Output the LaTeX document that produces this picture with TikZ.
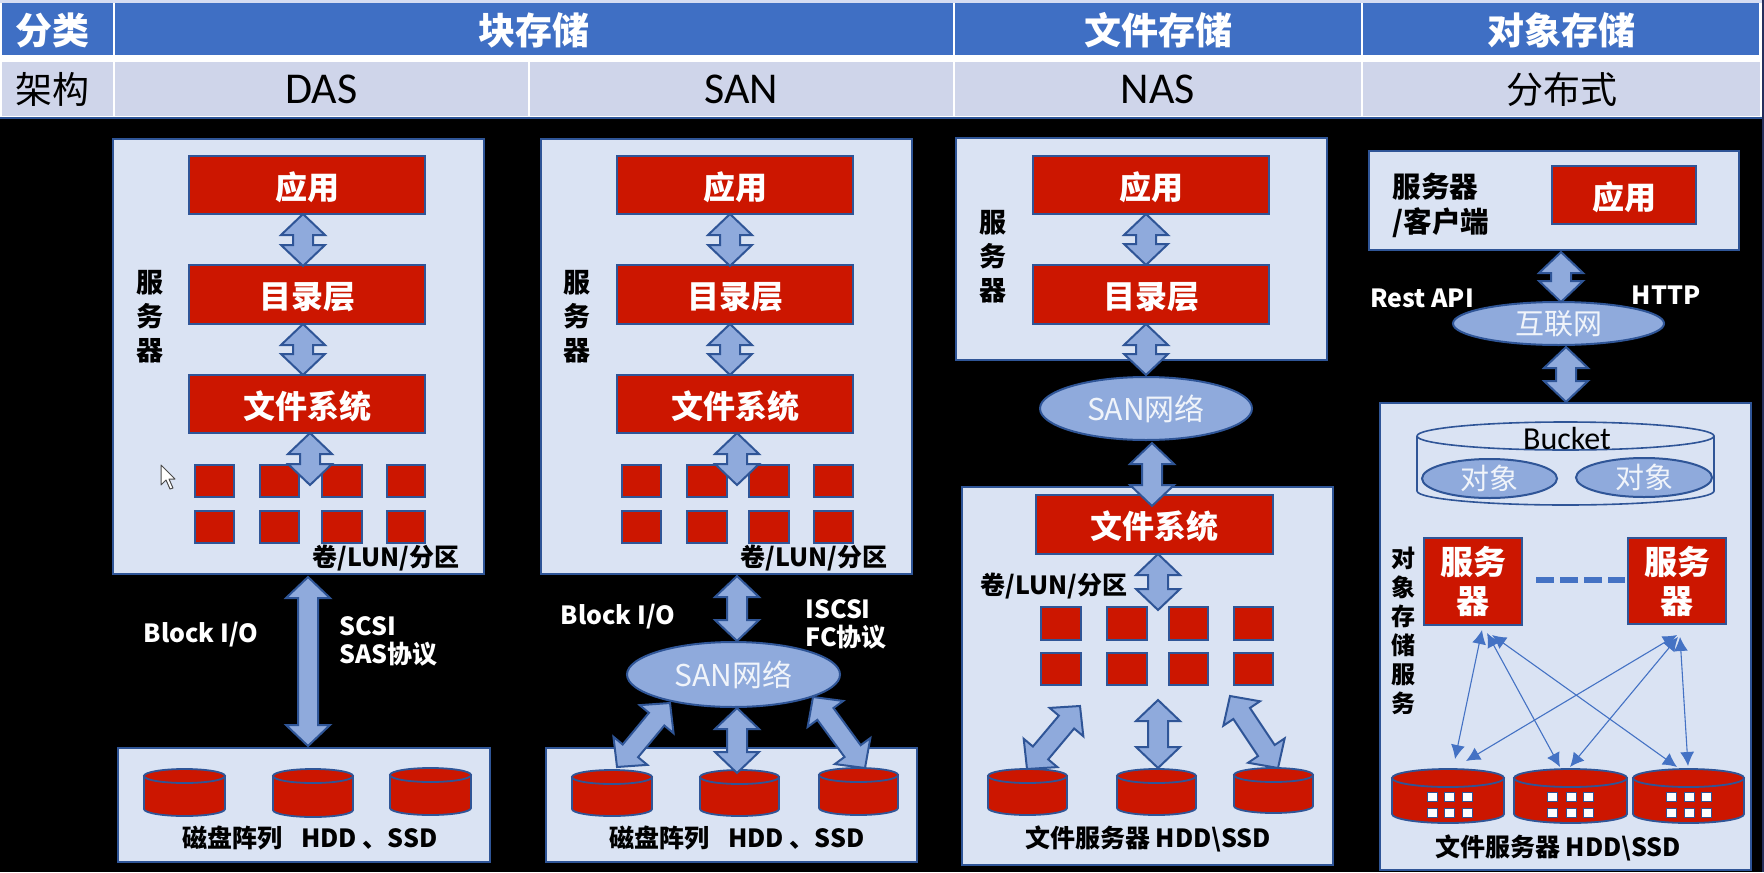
\documentclass[tikz,border=0pt]{standalone}
\usepackage{fontspec}
\setmainfont{Noto Sans CJK SC}
\newfontfamily\latinfont{Carlito}
\usetikzlibrary{calc,shapes.geometric,arrows.meta}

\definecolor{headblue}{HTML}{3F6FC4}
\definecolor{rowgrey}{HTML}{CFD5EA}
\definecolor{panel}{HTML}{DAE3F3}
\definecolor{edgeblue}{HTML}{2F5597}
\definecolor{linkblue}{HTML}{4472C4}
\definecolor{flowblue}{HTML}{8FAADC}
\definecolor{diskred}{HTML}{CC1600}
\definecolor{paletext}{HTML}{F0F4FA}
\definecolor{framenavy}{HTML}{262F5C}
\definecolor{topline}{HTML}{D5DCF2}

% Font sizes are given in pt; one pixel of the grid is 0.5pt.
\newcommand{\fpx}[2]{\fontsize{#1}{#2}\selectfont}

\tikzset{
  cellbase/.style={inner sep=0pt,outer sep=0pt},
  headcell/.style={cellbase,fill=headblue,text=white,font=\bfseries\fpx{18.5}{20},text height=18pt,text depth=2pt},
  rowcell/.style={cellbase,fill=rowgrey,text=black,font=\fpx{18.5}{20}},
  latincell/.style={rowcell,font=\latinfont\fpx{22}{24}},
  panelbox/.style={cellbase,draw=edgeblue,line width=1pt,fill=panel},
  redblock/.style={cellbase,draw=edgeblue,line width=1pt,fill=diskred,text=white,font=\bfseries\fpx{16}{18},text height=15.8pt,text depth=1.8pt},
  bigred/.style={cellbase,draw=edgeblue,line width=1pt,fill=diskred,text=white,font=\bfseries\fpx{16.5}{19.5},align=center},
  redcell/.style={cellbase,draw=edgeblue,line width=.8pt,fill=diskred},
  cloud/.style={cellbase,ellipse,draw=edgeblue,line width=1pt,fill=flowblue,text=paletext,font=\fpx{15}{17}},
  smallcloud/.style={cloud,font=\fpx{14.5}{16}},
  tag/.style={inner sep=0pt,yshift=-1pt,font=\bfseries\fpx{12.5}{14},text=black},
  whitetag/.style={tag,text=white},
  columnlabel/.style={tag,align=center,font=\bfseries\fpx{13.5}{17}},
  blockedge/.style={draw=edgeblue,line width=1pt,fill=flowblue,line join=miter},
  thinedge/.style={draw=linkblue,line width=.55pt,{Latex[length=7pt,width=7pt]}-{Latex[length=7pt,width=7pt]}},
  diskbody/.style={draw=edgeblue,line width=.9pt,fill=diskred},
  bucketline/.style={draw=edgeblue,line width=.8pt},
  slot/.style={cellbase,draw=edgeblue,line width=.5pt,fill=white},
}

% rectangle or ellipse node given by its corners in grid pixels
\newcommand{\cornernode}[7]{%
  \pgfmathsetmacro{\cxp}{(#3+#5)/2}%
  \pgfmathsetmacro{\cyp}{(#4+#6)/2}%
  \pgfmathsetmacro{\wdp}{(#5-#3)/2}%
  \pgfmathsetmacro{\htp}{(#6-#4)/2}%
  \node[#1,minimum width=\wdp pt,minimum height=\htp pt] (#2) at (\cxp,\cyp) {#7};%
}

% hollow double-headed arrow between two named points
\newcommand{\blockarrow}[2]{%
  \draw[blockedge] (#1)
    -- ($(#1)!10.5pt!(#2)!11pt!90:(#2)$)
    -- ($(#1)!10.5pt!(#2)!5pt!90:(#2)$)
    -- ($(#2)!10.5pt!(#1)!5pt!-90:(#1)$)
    -- ($(#2)!10.5pt!(#1)!11pt!-90:(#1)$)
    -- (#2)
    -- ($(#2)!10.5pt!(#1)!11pt!90:(#1)$)
    -- ($(#2)!10.5pt!(#1)!5pt!90:(#1)$)
    -- ($(#1)!10.5pt!(#2)!5pt!-90:(#2)$)
    -- ($(#1)!10.5pt!(#2)!11pt!-90:(#2)$)
    -- cycle;%
}

% disk drawn as a short cylinder: name, x1, y1, x2, y2, radius of the end ellipses
\newcommand{\disk}[6]{%
  \pgfmathsetmacro{\rxp}{(#4-#2)/2}%
  \pgfmathsetmacro{\cxp}{(#2+#4)/2}%
  \pgfmathsetmacro{\ytp}{#3+#6}%
  \pgfmathsetmacro{\ybp}{#5-#6}%
  \draw[diskbody] (#2,\ytp) -- (#2,\ybp) arc[start angle=180,end angle=0,x radius=\rxp,y radius=#6]
    -- (#4,\ytp) -- cycle;
  \draw[diskbody] (\cxp,\ytp) ellipse[x radius=\rxp,y radius=#6];
  \coordinate (#1) at (\cxp,#3);%
}

\begin{document}
\begin{tikzpicture}[x=.5pt,y=-.5pt]
\useasboundingbox (0,0) rectangle (1764,872);
\fill[black] (0,0) rectangle (1764,872);
\fill[framenavy] (1761.5,0) rectangle (1764,872);

% header table
\fill[white] (0,0) rectangle (1761.5,119);
\fill[topline] (0,0) rectangle (1761.5,3);
\fill[edgeblue] (0,116.5) rectangle (1761.5,119);
\cornernode{headcell}{hA}{2}{3}{113}{55}{}
\node[headcell] (hAt) at (52,29) {分类};
\cornernode{headcell}{hB}{115}{3}{953}{55}{块存储}
\cornernode{headcell}{hC}{955}{3}{1361}{55}{文件存储}
\cornernode{headcell}{hD}{1363}{3}{1759}{55}{对象存储}
\cornernode{rowcell}{rA}{2}{62}{113}{116}{}
\node[rowcell] (rAt) at (52,89) {架构};
\cornernode{latincell}{rB}{115}{62}{528}{116}{DAS}
\cornernode{latincell}{rC}{530}{62}{953}{116}{SAN}
\cornernode{latincell}{rD}{955}{62}{1361}{116}{NAS}
\cornernode{rowcell}{rE}{1363}{62}{1760}{116}{分布式}

% DAS column
\cornernode{panelbox}{dasSrv}{113}{139}{484}{574}{}
\cornernode{redblock}{dasApp}{189}{156}{425}{214}{应用}
\cornernode{redblock}{dasDir}{189}{265}{425}{324}{目录层}
\cornernode{redblock}{dasFs}{189}{375}{425}{433}{文件系统}
\foreach \i/\xa/\xb in {1/195/234,2/260/299,3/322/362,4/387/425}{
  \cornernode{redcell}{dasU\i}{\xa}{465}{\xb}{497}{}
  \cornernode{redcell}{dasL\i}{\xa}{511}{\xb}{543}{}
}
\coordinate (dasA1) at (303,214); \coordinate (dasA2) at (303,266);
\coordinate (dasB1) at (303,324); \coordinate (dasB2) at (303,375);
\coordinate (dasC1) at (310,433); \coordinate (dasC2) at (310,485);
\blockarrow{dasA1}{dasA2}
\blockarrow{dasB1}{dasB2}
\blockarrow{dasC1}{dasC2}
\node[columnlabel] (dasLab) at (150,315) {服\\务\\器};
\node[tag] (dasVol) at (386,556) {卷/LUN/分区};
\cornernode{panelbox}{dasArr}{118}{748}{490}{862}{}
\disk{dasD1}{144}{769}{225}{816}{7}
\disk{dasD2}{273}{769}{353}{817}{7}
\disk{dasD3}{390}{768}{471}{815}{7}
\node[tag] (dasDisks) at (310,836) {磁盘阵列\hspace{.75em}HDD 、SSD};
\coordinate (dasE1) at (308,577); \coordinate (dasE2) at (308,746);
\blockarrow{dasE1}{dasE2}
\node[whitetag] (dasIO) at (201,633) {Block I/O};
\node[whitetag,anchor=west,align=left] (dasProto) at (339,639) {SCSI\\SAS协议};

% pointer arrow
\draw[draw=black!70,fill=white,line width=.5pt,line join=round]
  (161,465) -- (161,485) -- (166,480) -- (170,489) -- (173,488) -- (169,479) -- (175,479) -- cycle;

% SAN column
\cornernode{panelbox}{sanSrv}{541}{139}{912}{574}{}
\cornernode{redblock}{sanApp}{617}{156}{853}{214}{应用}
\cornernode{redblock}{sanDir}{617}{265}{853}{324}{目录层}
\cornernode{redblock}{sanFs}{617}{375}{853}{433}{文件系统}
\foreach \i/\xa/\xb in {1/622/661,2/687/727,3/749/789,4/814/853}{
  \cornernode{redcell}{sanU\i}{\xa}{465}{\xb}{497}{}
  \cornernode{redcell}{sanL\i}{\xa}{511}{\xb}{543}{}
}
\coordinate (sanA1) at (730,214); \coordinate (sanA2) at (730,266);
\coordinate (sanB1) at (730,324); \coordinate (sanB2) at (730,375);
\coordinate (sanC1) at (737,433); \coordinate (sanC2) at (737,485);
\blockarrow{sanA1}{sanA2}
\blockarrow{sanB1}{sanB2}
\blockarrow{sanC1}{sanC2}
\node[columnlabel] (sanLab) at (577,315) {服\\务\\器};
\node[tag] (sanVol) at (814,556) {卷/LUN/分区};
\cornernode{panelbox}{sanArr}{546}{748}{917}{862}{}
\disk{sanD1}{572}{770}{652}{816}{7}
\disk{sanD2}{700}{770}{779}{816}{7}
\disk{sanD3}{819}{768}{898}{815}{7}
\node[tag] (sanDisks) at (737,836) {磁盘阵列\hspace{.75em}HDD 、SSD};
\cornernode{cloud}{sanNet}{627}{642}{840}{707}{SAN网络}
\coordinate (sanE1) at (737,576); \coordinate (sanE2) at (737,641);
\coordinate (sanF1) at (670,703); \coordinate (sanF2) at (617,767);
\coordinate (sanG1) at (737,708); \coordinate (sanG2) at (737,773);
\coordinate (sanH1) at (813,697); \coordinate (sanH2) at (865,768);
\blockarrow{sanE1}{sanE2}
\blockarrow{sanF1}{sanF2}
\blockarrow{sanG1}{sanG2}
\blockarrow{sanH1}{sanH2}
\node[whitetag] (sanIO) at (618,615) {Block I/O};
\node[whitetag,anchor=west,align=left] (sanProto) at (805,622) {ISCSI\\FC协议};

% NAS column
\cornernode{panelbox}{nasSrv}{956}{138}{1327}{360}{}
\cornernode{redblock}{nasApp}{1033}{156}{1269}{214}{应用}
\cornernode{redblock}{nasDir}{1033}{265}{1269}{324}{目录层}
\node[columnlabel] (nasLab) at (993,255) {服\\务\\器};
\cornernode{panelbox}{nasFile}{962}{487}{1333}{865}{}
\cornernode{redblock}{nasFs}{1036}{495}{1273}{554}{文件系统}
\foreach \i/\xa/\xb in {1/1041/1081,2/1107/1147,3/1169/1208,4/1234/1273}{
  \cornernode{redcell}{nasU\i}{\xa}{607}{\xb}{640}{}
  \cornernode{redcell}{nasL\i}{\xa}{653}{\xb}{685}{}
}
\cornernode{cloud}{nasNet}{1040}{377}{1252}{440}{SAN网络}
\coordinate (nasA1) at (1146,214); \coordinate (nasA2) at (1146,265);
\coordinate (nasB1) at (1146,324); \coordinate (nasB2) at (1146,375);
\coordinate (nasC1) at (1152,443); \coordinate (nasC2) at (1152,506);
\coordinate (nasD1) at (1158,554); \coordinate (nasD2) at (1158,610);
\blockarrow{nasA1}{nasA2}
\blockarrow{nasB1}{nasB2}
\blockarrow{nasC1}{nasC2}
\blockarrow{nasD1}{nasD2}
\node[tag] (nasVol) at (1054,584) {卷/LUN/分区};
\disk{nasD5}{988}{769}{1067}{815}{7}
\disk{nasD6}{1117}{769}{1196}{815}{7}
\disk{nasD7}{1234}{768}{1313}{813}{7}
\coordinate (nasF1) at (1080,706); \coordinate (nasF2) at (1027,769);
\coordinate (nasG1) at (1158,700); \coordinate (nasG2) at (1158,768);
\coordinate (nasH1) at (1230,696); \coordinate (nasH2) at (1278,768);
\blockarrow{nasF1}{nasF2}
\blockarrow{nasG1}{nasG2}
\blockarrow{nasH1}{nasH2}
\node[tag] (nasDisks) at (1148,837) {文件服务器 HDD\textbackslash SSD};

% object storage column
\cornernode{panelbox}{objClient}{1369}{151}{1739}{250}{}
\cornernode{redblock}{objApp}{1552}{166}{1696}{224}{应用}
\node[tag,yshift=1pt,font=\bfseries\fpx{14.3}{17.5},align=left,anchor=west] (objLab) at (1392,205) {服务器\\/客户端};
\cornernode{panelbox}{objStore}{1380}{403}{1751}{870}{}
\cornernode{smallcloud}{objNet}{1453}{302}{1664}{345}{互联网}
\coordinate (objA1) at (1561,252); \coordinate (objA2) at (1561,302);
\coordinate (objB1) at (1566,347); \coordinate (objB2) at (1566,402);
\blockarrow{objA1}{objA2}
\blockarrow{objB1}{objB2}
\node[whitetag] (objRest) at (1422,296) {Rest API};
\node[whitetag] (objHttp) at (1666,293) {HTTP};

% bucket
\draw[bucketline] (1417,436) -- (1417,491) arc[start angle=180,end angle=0,x radius=148.5,y radius=14] -- (1714,436);
\draw[bucketline] (1565.5,436) ellipse[x radius=148.5,y radius=14];
\node[inner sep=0pt,font=\latinfont\fpx{16}{18}] (objBucket) at (1567,439) {Bucket};
\cornernode{smallcloud}{objX1}{1422}{459}{1557}{498}{对象}
\cornernode{smallcloud}{objX2}{1576}{458}{1712}{497}{对象}

% servers and their disks
\node[tag,align=center,font=\bfseries\fpx{12}{14.5}] (objSvc) at (1403,629) {对\\象\\存\\储\\服\\务};
\cornernode{bigred}{objS1}{1424}{538}{1522}{625}{服务\\器}
\cornernode{bigred}{objS2}{1628}{538}{1726}{624}{服务\\器}
\draw[linkblue,line width=3pt,dash pattern=on 8.75pt off 3.25pt] ($(objS1.east)+(14,-1.5)$) -- ($(objS2.west)+(-3,-1)$);
\disk{objD1}{1392}{769}{1504}{823}{9}
\disk{objD2}{1514}{769}{1627}{823}{9}
\disk{objD3}{1633}{769}{1744}{823}{9}
\foreach \d/\xa/\xb/\xc in {1/1427/1444/1462,2/1547/1566/1583,3/1666/1684/1701}{
  \foreach \s/\xx in {1/\xa,2/\xb,3/\xc}{
    \pgfmathsetmacro{\xe}{\xx+10.5}
    \cornernode{slot}{objP\d\s}{\xx}{792}{\xe}{801}{}
    \cornernode{slot}{objQ\d\s}{\xx}{808}{\xe}{817}{}
  }
}
\coordinate (objTa) at (1482,630); \coordinate (objTb) at (1487,633); \coordinate (objTc) at (1492,635);
\coordinate (objTd) at (1677,635); \coordinate (objTe) at (1678,637); \coordinate (objTf) at (1680,637);
\coordinate (objBa) at (1455,759); \coordinate (objBb) at (1560,767); \coordinate (objBc) at (1677,767);
\coordinate (objBd) at (1466,761); \coordinate (objBe) at (1570,767); \coordinate (objBf) at (1688,766);
\draw[thinedge] (objTa) -- (objBa);
\draw[thinedge] (objTb) -- (objBb);
\draw[thinedge] (objTc) -- (objBc);
\draw[thinedge] (objTd) -- (objBd);
\draw[thinedge] (objTe) -- (objBe);
\draw[thinedge] (objTf) -- (objBf);
\node[tag] (objDisks) at (1558,846) {文件服务器 HDD\textbackslash SSD};
\end{tikzpicture}
\end{document}
